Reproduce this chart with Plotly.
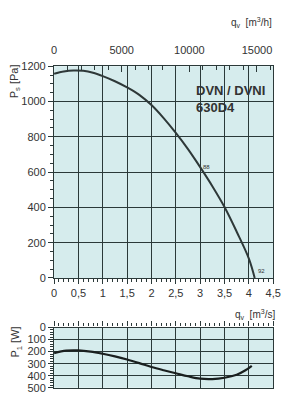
import plotly.graph_objects as go

# ---- data ----
q_ps = [0, 0.2, 0.4, 0.6, 0.8, 1.0, 1.25, 1.5, 1.75, 2.0, 2.25, 2.5, 2.75, 3.0, 3.25, 3.5, 3.75, 4.0, 4.12]
ps = [1157, 1170, 1176, 1174, 1163, 1144, 1115, 1080, 1038, 980, 906, 822, 730, 628, 520, 402, 262, 110, 0]

q_p1 = [0, 0.25, 0.5, 0.75, 1.0, 1.25, 1.5, 1.75, 2.0, 2.25, 2.5, 2.75, 3.0, 3.25, 3.5, 3.75, 3.93, 4.06]
p1 = [212, 192, 190, 200, 218, 240, 266, 296, 328, 355, 380, 405, 425, 428, 417, 392, 355, 318]

x_ticks = [0, 0.5, 1, 1.5, 2, 2.5, 3, 3.5, 4, 4.5]
x_ticktext = ["0", "0,5", "1", "1,5", "2", "2,5", "3", "3,5", "4", "4,5"]
top_ticks = [0, 5000, 10000, 15000]
top_ticktext = ["0", "5000", "10000", "15000"]
ps_ticks = [0, 200, 400, 600, 800, 1000, 1200]
p1_ticks = [0, 100, 200, 300, 400, 500]

W, H = 300, 419
BG = "#d6eced"
GRID = "#2b3939"
LINE = "#2e3838"
TXT = "#333333"
FONT = "Liberation Sans"

x0, x1 = 53, 280.5
xdom = [x0 / W, x1 / W]
top_dom = [1 - 280 / H, 1 - 62 / H]
bot_dom = [1 - 393 / H, 1 - 331 / H]

fig = go.Figure()
fig.add_trace(go.Scatter(x=q_ps, y=ps, mode="lines", line=dict(color=LINE, width=2, shape="spline"),
                         xaxis="x", yaxis="y", showlegend=False, hoverinfo="skip"))
fig.add_trace(go.Scatter(x=q_p1, y=p1, mode="lines", line=dict(color="#1a1f1f", width=2.2, shape="spline"),
                         xaxis="x3", yaxis="y3", showlegend=False, hoverinfo="skip"))
# dummy to activate top axis
fig.add_trace(go.Scatter(x=[0, 16200], y=[None, None], xaxis="x2", yaxis="y", showlegend=False, hoverinfo="skip"))

tickfont = dict(family=FONT, size=11, color=TXT)

fig.update_layout(
    width=W, height=H, margin=dict(l=0, r=0, t=0, b=0),
    paper_bgcolor="white", plot_bgcolor=BG,
    font=dict(family=FONT, color=TXT),
    xaxis=dict(domain=xdom, anchor="y", range=[0, 4.5], tickvals=x_ticks, ticktext=x_ticktext,
               showgrid=True, gridcolor=GRID, gridwidth=1.2, zeroline=False,
               showline=True, linecolor=GRID, linewidth=1.2, mirror=True,
               ticks="outside", ticklen=5, tickcolor=GRID, tickfont=tickfont,
               minor=dict(dtick=0.1, ticks="outside", ticklen=3, tickcolor=GRID, showgrid=False)),
    xaxis2=dict(domain=xdom, anchor="y", overlaying="x", side="top", range=[0, 16200],
                tickvals=top_ticks, ticktext=top_ticktext, showgrid=False, zeroline=False,
                ticks="inside", ticklen=6, tickcolor=GRID, tickfont=tickfont, ticklabelstandoff=9,
                minor=dict(dtick=1000, ticks="inside", ticklen=4, tickcolor=GRID, showgrid=False)),
    yaxis=dict(domain=top_dom, anchor="x", range=[0, 1200], tickvals=ps_ticks,
               showgrid=True, gridcolor=GRID, gridwidth=1.2, zeroline=False,
               showline=True, linecolor=GRID, linewidth=1.2, mirror=True,
               ticks="outside", ticklen=5, tickcolor=GRID, tickfont=tickfont,
               minor=dict(dtick=50, ticks="outside", ticklen=3, tickcolor=GRID, showgrid=False)),
    xaxis3=dict(domain=xdom, anchor="y3", side="top", range=[0, 4.5], tickvals=x_ticks, showticklabels=False,
                showgrid=True, gridcolor=GRID, gridwidth=1.2, zeroline=False,
                showline=True, linecolor=GRID, linewidth=1.2, mirror=True,
                ticks="outside", ticklen=5, tickcolor=GRID,
                minor=dict(dtick=0.1, ticks="outside", ticklen=3, tickcolor=GRID, showgrid=False)),
    yaxis3=dict(domain=bot_dom, anchor="x3", range=[500, 0], tickvals=p1_ticks,
                showgrid=True, gridcolor=GRID, gridwidth=1.2, zeroline=False,
                showline=True, linecolor=GRID, linewidth=1.2, mirror=True,
                ticks="outside", ticklen=5, tickcolor=GRID, tickfont=tickfont,
                minor=dict(dtick=20, ticks="outside", ticklen=3, tickcolor=GRID, showgrid=False)),
)

def ann(text, x, y, size=11, angle=0, bold=False, xanchor="center", yanchor="middle"):
    fig.add_annotation(text=f"<b>{text}</b>" if bold else text, xref="paper", yref="paper",
                       x=x / W, y=1 - y / H, showarrow=False, textangle=angle,
                       xanchor=xanchor, yanchor=yanchor,
                       font=dict(family=FONT, size=size, color=TXT))

ann("q<sub>v</sub>  [m<sup>3</sup>/h]", 258, 17, size=10)
ann("P<sub>s</sub> [Pa]", 12, 78, size=11, angle=-90)
ann("DVN / DVNI", 198, 87, size=13, bold=True, xanchor="left")
ann("630D4", 198, 104, size=13, bold=True, xanchor="left")
ann("88", 206, 166, size=6, xanchor="left")
ann("92", 263, 273, size=6, xanchor="left")
ann("q<sub>v</sub>  [m<sup>3</sup>/s]", 262, 318, size=10)
ann("P<sub>1</sub> [W]", 14, 346, size=11, angle=-90)

fig.write_html("out.html")
